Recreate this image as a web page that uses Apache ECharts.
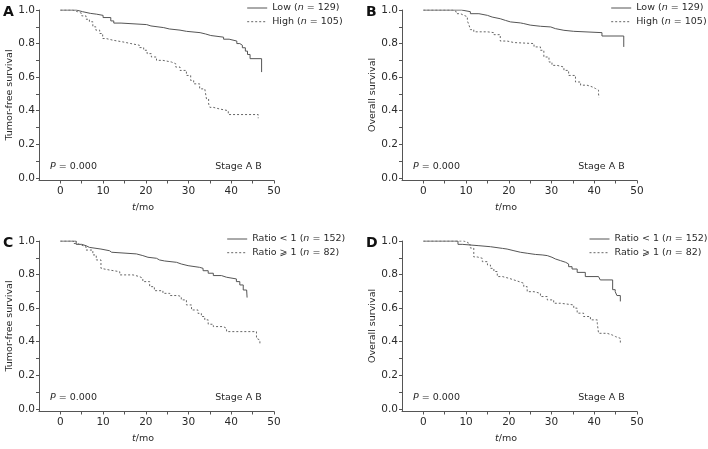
<!DOCTYPE html>
<html>
<head>
<meta charset="utf-8">
<script src="https://cdn.jsdelivr.net/npm/echarts@6/dist/echarts.min.js"></script>
<style>html,body{margin:0;padding:0;background:#fff}#c{width:708px;height:449px}</style>
</head>
<body>
<div id="c"></div>
<script>
// ---- data (time in months, survival proportion after each drop) ----
const lowA = [[0,1],[3.7,0.99],[5.2,0.98],[7.0,0.975],[8.5,0.968],[10,0.955],[11.8,0.935],[12.5,0.922],[14.2,0.913],[20.2,0.905],[21.2,0.895],[24.2,0.887],[25.5,0.88],[28,0.873],[29.5,0.865],[32.7,0.857],[34.0,0.848],[35.2,0.838],[38.2,0.826],[39.5,0.815],[41.3,0.80],[42.0,0.79],[42.6,0.775],[43.3,0.755],[43.8,0.735],[44.4,0.71],[47.1,0.63]];
const highA = [[0,1],[2.9,0.99],[4,0.98],[5,0.965],[6,0.945],[6.8,0.93],[7.6,0.9],[8.3,0.88],[9.2,0.86],[9.9,0.83],[10.7,0.82],[12.3,0.81],[14.6,0.80],[16.5,0.79],[18.5,0.776],[19.5,0.76],[20.3,0.74],[21.3,0.72],[22.5,0.70],[24,0.69],[26,0.68],[27,0.66],[28,0.64],[29.5,0.61],[30.5,0.58],[31.2,0.56],[32.6,0.53],[33.8,0.52],[34.2,0.47],[34.7,0.44],[35,0.42],[35.8,0.41],[37.3,0.40],[39.3,0.377],[46.3,0.355]];
const lowB = [[0,1],[8.9,0.99],[11,0.978],[13,0.968],[15,0.958],[16.1,0.948],[18,0.938],[19.2,0.929],[20.4,0.923],[22.7,0.919],[23.5,0.91],[25,0.903],[27.4,0.899],[29.8,0.889],[30.9,0.879],[32.9,0.873],[35.2,0.865],[41.8,0.845],[46.9,0.78]];
const highB = [[0,1],[6.9,0.99],[7.7,0.978],[8.7,0.968],[9.5,0.96],[10.3,0.935],[10.7,0.909],[11,0.883],[11.8,0.87],[15,0.865],[16.5,0.853],[18,0.815],[19.6,0.806],[21.2,0.80],[25.9,0.78],[27.4,0.76],[28.2,0.72],[29.4,0.69],[30.1,0.67],[31.3,0.66],[32.9,0.64],[34,0.61],[35.6,0.571],[36.8,0.552],[38.3,0.542],[39.5,0.532],[40.3,0.522],[41,0.50],[41.1,0.478]];
const lowC = [[0,1],[3.7,0.98],[5,0.972],[6,0.962],[6.8,0.952],[9.5,0.942],[11.5,0.933],[12,0.923],[17.8,0.913],[19.3,0.903],[20.5,0.897],[22.5,0.887],[23.2,0.881],[24.4,0.873],[27.2,0.863],[28.3,0.853],[29.9,0.843],[32.6,0.837],[33.4,0.823],[34.6,0.808],[35.8,0.794],[37.7,0.784],[38.9,0.774],[41.2,0.758],[42,0.738],[42.8,0.708],[43.6,0.698],[43.7,0.663]];
const highC = [[0,1],[3.05,0.985],[4,0.975],[5,0.966],[6,0.946],[7.6,0.917],[8.4,0.887],[9.5,0.837],[9.9,0.827],[11.5,0.817],[13.9,0.798],[17,0.788],[18.5,0.778],[19.3,0.758],[20.9,0.728],[22,0.704],[24,0.688],[25.6,0.675],[27.5,0.669],[28.3,0.649],[29.5,0.619],[30.7,0.589],[32.2,0.569],[33,0.55],[33.8,0.53],[34.6,0.504],[35.8,0.49],[38.1,0.48],[38.9,0.46],[45.9,0.42],[46.3,0.41],[46.7,0.38]];
const lowD = [[0,1],[8.1,0.98],[9.1,0.972],[13,0.966],[15.7,0.956],[18.5,0.952],[19.6,0.942],[21.2,0.933],[22.7,0.927],[24.3,0.92],[26.2,0.917],[27.8,0.913],[29,0.903],[30.1,0.893],[30.9,0.883],[32.1,0.873],[33.3,0.863],[34,0.847],[34.8,0.833],[36,0.813],[37.9,0.788],[41,0.778],[41.4,0.768],[44.3,0.71],[44.9,0.698],[45.3,0.675],[46.1,0.64]];
const highD = [[0,1],[9.5,0.99],[10.5,0.978],[11,0.958],[11.8,0.905],[12.6,0.897],[13.8,0.877],[15,0.857],[15.7,0.837],[16.5,0.818],[17.3,0.788],[18.5,0.778],[20,0.768],[21.2,0.758],[22.4,0.748],[23.5,0.728],[24.3,0.698],[25.9,0.688],[27.4,0.669],[29,0.649],[30.5,0.629],[32.1,0.619],[35.2,0.60],[36,0.57],[37.5,0.55],[39.1,0.53],[40.7,0.51],[41,0.45],[43,0.44],[44.2,0.43],[45,0.42],[46.1,0.39]];

const xLabelVals = [0, 10, 20, 30, 40, 50];
const xTickVals = [0, 5, 10, 15, 20, 25, 30, 35, 40, 45, 50];
const yLabelVals = [0, 0.2, 0.4, 0.6, 0.8, 1.0];
const yTickVals = [0, 0.1, 0.2, 0.3, 0.4, 0.5, 0.6, 0.7, 0.8, 0.9, 1.0];

const panelLetters = ['A', 'B', 'C', 'D'];
const yTitles = ['Tumor-free survival', 'Overall survival', 'Tumor-free survival', 'Overall survival'];
const legendNames = [['Low', 'High'], ['Low', 'High'], ['Ratio < 1', 'Ratio ⩾ 1'], ['Ratio < 1', 'Ratio ⩾ 1']];
const legendN = {'Low': 129, 'High': 105, 'Ratio < 1': 152, 'Ratio ⩾ 1': 82};
const pText = 'P = 0.000';
const stageText = 'Stage A B';
const xTitle = 't/mo';

// ---- layout ----
const FONT = 'DejaVu Sans';
const TXT = '#2a2a2a';
const AX = '#555';
const panels = [
  {left: 39, top: 10, data: [lowA, highA]},
  {left: 402, top: 10, data: [lowB, highB]},
  {left: 39, top: 241, data: [lowC, highC]},
  {left: 402, top: 241, data: [lowD, highD]}
];
const GW = 235, GH = 170.5;

const option = {animation: false, grid: [], xAxis: [], yAxis: [], series: [], legend: [], graphic: []};

panels.forEach((p, i) => {
  option.grid.push({left: p.left, top: p.top, width: GW, height: GH});
  option.xAxis.push({
    type: 'value', gridIndex: i, min: -5, max: 50,
    axisLine: {show: true, onZero: false, lineStyle: {color: AX, width: 1}},
    axisTick: {show: true, length: 3, customValues: xTickVals, lineStyle: {color: AX}},
    axisLabel: {customValues: xLabelVals, margin: 5, fontSize: 10.5, color: TXT, fontFamily: FONT},
    splitLine: {show: false}
  });
  option.yAxis.push({
    type: 'value', gridIndex: i, min: -0.016, max: 1,
    axisLine: {show: true, onZero: false, lineStyle: {color: AX, width: 1}},
    axisTick: {show: true, length: 3, customValues: yTickVals, lineStyle: {color: AX}},
    axisLabel: {customValues: yLabelVals, margin: 4, fontSize: 10.5, color: TXT, fontFamily: FONT,
      formatter: v => v.toFixed(1)},
    splitLine: {show: false}
  });
  const names = legendNames[i];
  [0, 1].forEach(k => {
    option.series.push({
      type: 'line', name: names[k], xAxisIndex: i, yAxisIndex: i,
      data: p.data[k], step: 'end', symbol: 'none', showSymbol: false,
      lineStyle: {color: k === 0 ? '#555' : '#666', width: 1, type: k === 0 ? 'solid' : [2, 2]},
      itemStyle: {color: k === 0 ? '#555' : '#666'}
    });
  });
  const right = p.left + GW;
  const legLeft = (i % 2 === 0) ? (i === 0 ? 246.7 : 226.7) : (i === 1 ? 610.7 : 589);
  option.legend.push({
    data: names, left: legLeft, top: p.top - 7, orient: 'vertical', padding: 0,
    itemWidth: 20, itemHeight: 10, itemGap: 3.7, selectedMode: false,
    itemStyle: {opacity: 0},
    lineStyle: {width: 1},
    formatter: n => n + ' ({i|n} = ' + legendN[n] + ')',
    textStyle: {fontSize: 9.5, color: TXT, fontFamily: FONT,
      rich: {i: {fontStyle: 'italic', fontSize: 9.5, color: TXT, fontFamily: FONT}}}
  });
  const rich = {i: {fontStyle: 'italic', fontSize: 9.5, fill: TXT, fontFamily: FONT}};
  const yZero = p.top + GH / 1.016;
  option.graphic.push(
    {type: 'text', x: p.left - 36, y: p.top + 2.7, style: {text: panelLetters[i], fontSize: 14, fontWeight: 'bold', fontFamily: FONT, fill: '#111', align: 'left', verticalAlign: 'middle'}},
    {type: 'text', x: p.left + 11, y: yZero - 11, style: {text: '{i|P} = 0.000', rich: rich, fontSize: 9.5, fontFamily: FONT, fill: TXT, align: 'left', verticalAlign: 'middle'}},
    {type: 'text', x: right - 12.3, y: yZero - 11, style: {text: stageText, fontSize: 9.5, fontFamily: FONT, fill: TXT, align: 'right', verticalAlign: 'middle'}},
    {type: 'text', x: p.left + 104, y: p.top + 198, style: {text: '{i|t}/mo', rich: rich, fontSize: 9.5, fontFamily: FONT, fill: TXT, align: 'center', verticalAlign: 'middle'}},
    {type: 'text', x: p.left - 29.5, y: p.top + 85, rotation: Math.PI / 2, style: {text: yTitles[i], fontSize: 9.5, fontFamily: FONT, fill: TXT, align: 'center', verticalAlign: 'middle'}}
  );
});

const chart = echarts.init(document.getElementById('c'), null, {renderer: 'canvas'});
chart.setOption(option);
</script>
</body>
</html>
